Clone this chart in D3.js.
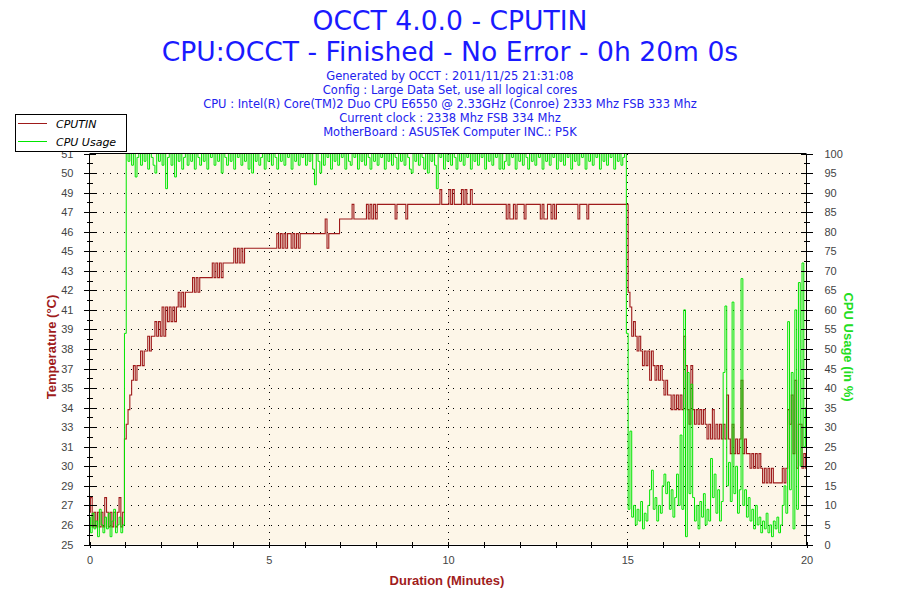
<!DOCTYPE html>
<html><head><meta charset="utf-8">
<script src="https://cdn.jsdelivr.net/npm/d3@7/dist/d3.min.js"></script>
<style>body{margin:0;background:#fff}svg{display:block}</style>
</head><body><svg id="c" width="900" height="600"></svg>
<script>
// ---------- DATA ----------
const titleLines = ["OCCT 4.0.0 - CPUTIN", "CPU:OCCT - Finished - No Error - 0h 20m 0s"];
const infoLines = [
  "Generated by OCCT : 2011/11/25 21:31:08",
  "Config : Large Data Set, use all logical cores",
  "CPU : Intel(R) Core(TM)2 Duo CPU E6550 @ 2.33GHz (Conroe) 2333 Mhz FSB 333 Mhz",
  "Current clock : 2338 Mhz FSB 334 Mhz",
  "MotherBoard : ASUSTeK Computer INC.: P5K"
];
const seriesNames = ["CPUTIN", "CPU Usage"];
const axisTitles = ["Duration (Minutes)", "Temperature (°C)", "CPU Usage (in %)"];
const durationMinutes = 20;
const sampleSeconds = 3;
const tempDomain = [25, 51.667];
const tempTickLabels = [25,26,27,29,30,31,33,34,35,37,38,39,41,42,43,45,46,47,49,50,51];
const cpuTickValues = [0,5,10,15,20,25,30,35,40,45,50,55,60,65,70,75,80,85,90,95,100];
const timeTickLabels = [0,5,10,15,20];

const temperature = [
27.2,28.2,26.2,27.2,26.2,27.2,26.2,27.2,26.2,28.2,27.2,26.2,27.2,26.2,27.2,26.2,27.2,28.2,26.2,27.2,
32.2,33.2,34.2,35.2,36.2,37.2,36.2,37.2,37.2,38.2,37.2,38.2,38.2,39.2,38.2,39.2,39.2,40.2,39.2,40.2,
39.2,41.2,39.2,41.2,40.2,41.2,40.2,41.2,40.2,41.2,42.2,41.2,42.2,41.2,42.2,42.2,42.2,42.2,43.2,42.2,
43.2,42.2,43.2,43.2,43.2,43.2,43.2,43.2,43.2,44.2,43.2,44.2,43.2,44.2,43.2,44.2,44.2,44.2,44.2,44.2,
44.2,45.2,44.2,45.2,44.2,45.2,44.2,45.2,45.2,45.2,45.2,45.2,45.2,45.2,45.2,45.2,45.2,45.2,45.2,45.2,
45.2,45.2,45.2,45.2,45.2,46.2,45.2,46.2,45.2,46.2,45.2,46.2,46.2,45.2,46.2,45.2,46.2,45.2,46.2,46.2,
46.2,46.2,46.2,46.2,46.2,46.2,46.2,46.2,46.2,46.2,46.2,46.2,47.2,45.2,46.2,46.2,46.2,46.2,46.2,46.2,
47.2,47.2,47.2,47.2,47.2,47.2,47.2,48.2,47.2,47.2,47.2,47.2,47.2,47.2,47.2,48.2,47.2,48.2,47.2,48.2,
47.2,48.2,48.2,48.2,48.2,48.2,48.2,48.2,48.2,48.2,48.2,47.2,48.2,48.2,48.2,48.2,48.2,47.2,48.2,48.2,
48.2,48.2,48.2,48.2,48.2,48.2,48.2,48.2,48.2,48.2,48.2,48.2,48.2,48.2,48.2,48.2,49.2,48.2,48.2,48.2,
48.2,49.2,48.2,49.2,48.2,48.2,48.2,48.2,49.2,48.2,49.2,48.2,48.2,49.2,48.2,48.2,48.2,48.2,48.2,48.2,
48.2,48.2,48.2,48.2,48.2,48.2,48.2,48.2,48.2,48.2,48.2,48.2,48.2,47.2,48.2,47.2,47.2,48.2,47.2,48.2,
48.2,48.2,48.2,47.2,48.2,48.2,48.2,48.2,48.2,48.2,48.2,48.2,47.2,48.2,47.2,47.2,48.2,48.2,47.2,48.2,
47.2,48.2,48.2,48.2,48.2,48.2,48.2,48.2,48.2,48.2,48.2,48.2,48.2,47.2,48.2,48.2,48.2,48.2,47.2,48.2,
48.2,48.2,48.2,48.2,48.2,48.2,48.2,48.2,48.2,48.2,48.2,48.2,48.2,48.2,48.2,48.2,48.2,48.2,48.2,48.2,
48.2,42.2,41.2,39.2,40.2,39.2,38.2,39.2,38.2,37.2,38.2,37.2,38.2,36.2,38.2,37.2,36.2,37.2,36.2,37.2,
36.2,35.2,36.2,35.2,35.2,34.2,35.2,34.2,35.2,34.2,35.2,34.2,39.2,37.2,34.2,33.2,37.2,34.2,33.2,34.2,
33.2,34.2,33.2,34.2,33.2,32.2,33.2,32.2,34.2,32.2,33.2,32.2,33.2,32.2,33.2,32.2,35.2,32.2,31.2,33.2,
31.2,32.2,31.2,32.2,36.2,31.2,32.2,31.2,31.2,30.2,31.2,30.2,31.2,30.2,31.2,30.2,29.2,30.2,29.2,30.2,
29.2,30.2,29.2,29.2,29.2,29.2,29.2,30.2,29.2,30.2,34.2,33.2,35.2,31.2,36.2,30.2,33.2,33.2,30.2,31.2,30.2
];

const cpuUsage = [
7,3,8,4,6,2,9,5,3,7,4,8,2,6,9,3,5,7,3,5,
54,100,98,100,97,100,94,99,100,97,100,98,100,96,100,99,97,95,100,98,100,
97,100,91,99,100,97,100,94,100,98,100,96,99,100,97,100,98,100,96,100,
99,97,100,98,100,96,100,99,100,97,100,98,100,95,100,99,97,100,98,100,
96,100,99,100,97,100,98,100,96,100,95,100,98,100,97,99,100,96,100,98,
100,97,100,99,96,100,98,100,97,100,99,100,96,100,98,100,97,100,99,100,
97,100,98,100,96,92,100,98,95,100,97,100,99,100,96,100,98,100,97,100,
99,100,96,100,98,97,100,99,100,96,100,98,100,97,100,99,96,100,98,100,
97,100,99,100,96,100,98,100,97,100,99,96,100,98,100,97,100,99,96,95,
100,98,100,97,100,99,96,100,95,100,98,100,97,91,100,99,100,96,100,98,
100,97,100,99,96,100,98,100,97,100,99,100,96,100,98,100,97,100,99,100,
96,100,98,100,97,100,99,100,96,100,96,98,100,97,100,99,100,96,100,98,
100,97,100,99,96,100,98,100,97,100,99,100,96,100,98,100,97,100,99,100,
96,100,98,100,97,100,99,100,96,100,98,100,97,100,99,100,96,100,98,100,
97,100,99,100,96,100,98,100,97,100,99,100,96,100,98,100,97,99,100,
54,9,29,
7,10,5,9,6,11,4,8,6,10,14,19,9,12,6,10,8,15,18,13,
16,9,14,7,12,18,10,28,9,60,2,44,13,41,12,6,10,4,11,7,
13,5,9,6,22,12,18,8,14,6,11,44,61,15,21,11,62,13,20,8,
14,68,10,14,7,12,6,9,4,10,5,7,3,6,4,8,3,5,2,6,
4,7,3,5,10,15,8,57,14,44,4,60,9,67,20,72,25,35
];

// ---------- CHART ----------
const svg = d3.select("#c");
const L = 89.5, R = 806.5, T = 153.5, B = 544.5;
const x = d3.scaleLinear().domain([0, durationMinutes]).range([L, R]);
const yT = d3.scaleLinear().domain(tempDomain).range([B, T]);
const yC = d3.scaleLinear().domain([0, 100]).range([B, T]);
const tMin = i => i * sampleSeconds / 60;

const titleColor = "#1a1aff", tempColor = "#9e1a1a", cpuColor = "#00e600";
const tickFont = "'Liberation Sans Narrow','Liberation Sans',Arial,sans-serif";

// titles
svg.selectAll("text.title").data(titleLines).join("text")
  .attr("x", 450).attr("y", (d, i) => 30 + i * 31)
  .attr("text-anchor", "middle").attr("font-family", "'DejaVu Sans',Verdana,sans-serif")
  .attr("font-size", 26.6).attr("fill", titleColor).text(d => d);
svg.selectAll("text.info").data(infoLines).join("text")
  .attr("x", 450).attr("y", (d, i) => 80 + i * 13.9)
  .attr("text-anchor", "middle").attr("font-family", "'DejaVu Sans',Verdana,sans-serif")
  .attr("font-size", 11.5).attr("fill", "#2222ee").text(d => d);

// plot background
svg.append("rect").attr("x", L).attr("y", T).attr("width", R - L).attr("height", B - T)
  .attr("fill", "#fdf6e8");

// grid
const tempTickPos = tempTickLabels.map((d, i) => tempDomain[0] + i * (tempDomain[1] - tempDomain[0]) / (tempTickLabels.length - 1));
const grid = svg.append("g").attr("stroke", "#000").attr("stroke-dasharray", "1,6").attr("shape-rendering", "crispEdges");
grid.selectAll("line.h").data(tempTickPos.slice(1, -1)).join("line")
  .attr("x1", L + 6).attr("x2", R).attr("y1", d => Math.round(yT(d)) + 0.5).attr("y2", d => Math.round(yT(d)) + 0.5);
grid.selectAll("line.v").data(timeTickLabels.slice(1, -1)).join("line")
  .attr("y1", T).attr("y2", B).attr("x1", d => Math.round(x(d)) + 0.5).attr("x2", d => Math.round(x(d)) + 0.5);

// data lines
svg.append("clipPath").attr("id", "pc").append("rect")
  .attr("x", L).attr("y", T - 1).attr("width", R - L + 1).attr("height", B - T + 1);
const lineT = d3.line().curve(d3.curveStep).x((d, i) => x(tMin(i))).y(d => yT(d));
const lineC = d3.line().curve(d3.curveStep).x((d, i) => x(tMin(i))).y(d => yC(d));
svg.append("path").datum(temperature).attr("d", lineT).attr("fill", "none")
  .attr("stroke", tempColor).attr("stroke-width", 1.1).attr("clip-path", "url(#pc)");
svg.append("path").datum(cpuUsage).attr("d", lineC).attr("fill", "none")
  .attr("stroke", cpuColor).attr("stroke-width", 1).attr("clip-path", "url(#pc)");

// top border
svg.append("line").attr("x1", L).attr("x2", R).attr("y1", T).attr("y2", T).attr("stroke", "#000");

// left axis
const axL = svg.append("g").attr("transform", `translate(${L},0)`)
  .call(d3.axisLeft(yT).tickValues(tempTickPos).tickFormat((d, i) => tempTickLabels[i]).tickSize(6).tickPadding(10));
const minorT = d3.pairs(tempTickPos).map(p => (p[0] + p[1]) / 2);
const axLm = svg.append("g").attr("transform", `translate(${L},0)`)
  .call(d3.axisLeft(yT).tickValues(minorT).tickFormat("").tickSize(3));
// right axis
const axR = svg.append("g").attr("transform", `translate(${R},0)`)
  .call(d3.axisRight(yC).tickValues(cpuTickValues).tickSize(6).tickPadding(12));
const minorC = d3.pairs(cpuTickValues).map(p => (p[0] + p[1]) / 2);
const axRm = svg.append("g").attr("transform", `translate(${R},0)`)
  .call(d3.axisRight(yC).tickValues(minorC).tickFormat("").tickSize(3));
// bottom axis
const axB = svg.append("g").attr("transform", `translate(0,${B})`)
  .call(d3.axisBottom(x).tickValues(d3.range(0, durationMinutes + 1)).tickFormat(d => timeTickLabels.includes(d) ? d : "").tickSize(3).tickPadding(9));

[axL, axLm, axR, axRm, axB].forEach(g => {
  g.attr("shape-rendering", "crispEdges");
  g.select(".domain").attr("stroke", "#000");
  g.selectAll(".tick line").attr("stroke", "#000");
  g.selectAll("text").attr("font-family", tickFont).attr("font-size", 11).attr("fill", "#444");
});
axL.selectAll(".tick line").attr("x1", 6);
axLm.selectAll(".tick line").attr("x1", 3);
axR.selectAll(".tick line").attr("x1", -6);
axRm.selectAll(".tick line").attr("x1", -3);
axB.selectAll(".tick line").attr("y1", -3);
axB.select(".domain").attr("d", `M${L},0.5H${R}`);
axL.select(".domain").attr("d", `M0,${T}V${B}`);
axR.select(".domain").attr("d", `M0,${T}V${B}`);
axLm.select(".domain").remove(); axRm.select(".domain").remove();

// axis titles
const axisTitleFont = "'Liberation Sans',Arial,sans-serif";
svg.append("text").attr("x", 447).attr("y", 585).attr("text-anchor", "middle")
  .attr("font-family", axisTitleFont).attr("font-weight", "bold").attr("font-size", 13)
  .attr("fill", "#a01c1c").text(axisTitles[0]);
svg.append("text").attr("transform", "translate(56,347) rotate(-90)").attr("text-anchor", "middle")
  .attr("font-family", axisTitleFont).attr("font-weight", "bold").attr("font-size", 13)
  .attr("fill", "#a01c1c").text(axisTitles[1]);
svg.append("text").attr("transform", "translate(844,347) rotate(90)").attr("text-anchor", "middle")
  .attr("font-family", axisTitleFont).attr("font-weight", "bold").attr("font-size", 13)
  .attr("fill", "#22dd22").text(axisTitles[2]);

// legend
const lg = svg.append("g");
lg.append("rect").attr("x", 15.5).attr("y", 114.5).attr("width", 111).attr("height", 37)
  .attr("fill", "#fff").attr("stroke", "#000").attr("shape-rendering", "crispEdges");
const legendColors = [tempColor, cpuColor];
seriesNames.forEach((n, i) => {
  const yy = 123.5 + i * 18;
  lg.append("line").attr("x1", 18).attr("x2", 47).attr("y1", yy).attr("y2", yy)
    .attr("stroke", legendColors[i]).attr("shape-rendering", "crispEdges");
  lg.append("text").attr("x", 56).attr("y", yy + 4).attr("font-family", "'DejaVu Sans',Verdana,sans-serif")
    .attr("font-style", "italic").attr("font-size", 11).attr("fill", "#000").text(n);
});
</script>
</body></html>
